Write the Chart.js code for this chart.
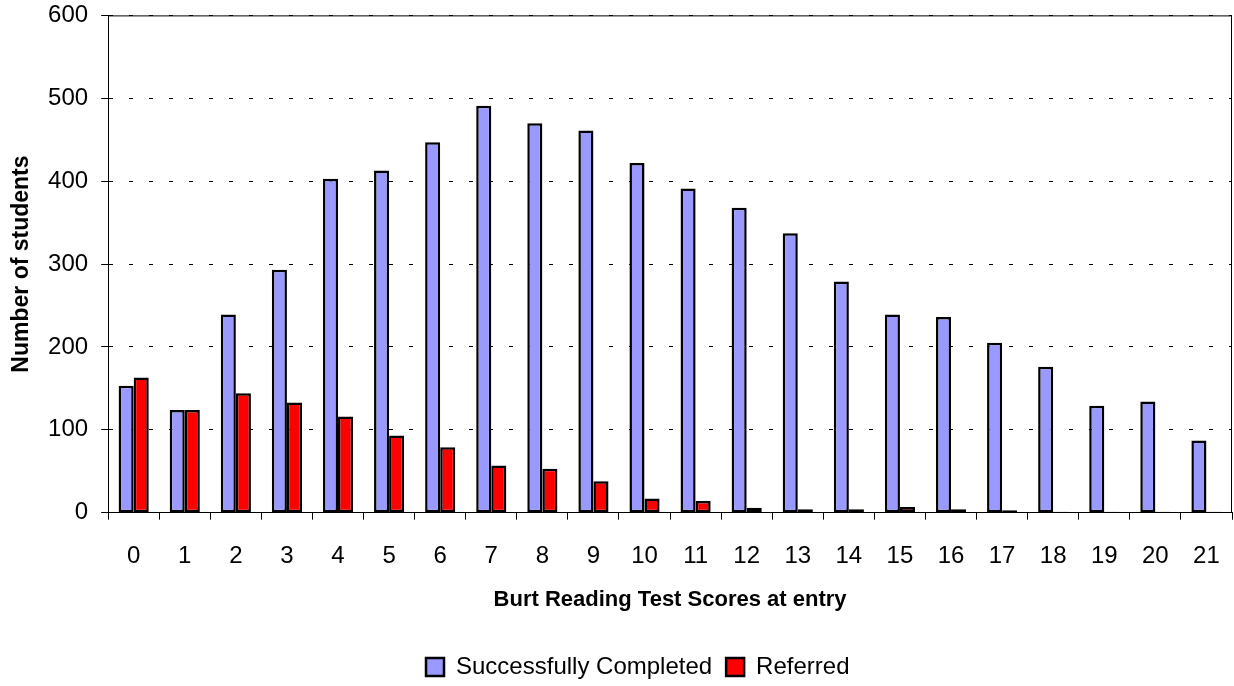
<!DOCTYPE html>
<html>
<head>
<meta charset="utf-8">
<script src="https://cdn.jsdelivr.net/npm/chart.js@4/dist/chart.umd.min.js"></script>
<style>
  body { margin: 0; background: #fff; }
  #wrap { width: 1234px; height: 686px; }
</style>
</head>
<body>
<div id="wrap"><canvas id="burt-chart"></canvas></div>
<script>
var scores = ["0","1","2","3","4","5","6","7","8","9","10","11","12","13","14","15","16","17","18","19","20","21"];
var completed = [153,124,239,293,403,413,447,491,470,461,422,391,368,337,279,239,236,205,176,129,134,87];
var referred = [163,124,144,133,116,93,79,57,53,38,17,14,6,4,4,7,4,3,1,1,1,1];
var yTicks = [0,100,200,300,400,500,600];

var font = "'Liberation Sans', Arial, sans-serif";

// solid box on top and right of the plot
var plotBox = {
  id: 'plotBox',
  afterLayout: function(chart) {
    // legend sits a bit right of centre in the original
    chart.legend.left += 18;
    chart.legend.right += 18;
  },
  beforeDatasetsDraw: function(chart) {
    var a = chart.chartArea;
    var ctx = chart.ctx;
    ctx.save();
    ctx.strokeStyle = '#000';
    ctx.lineWidth = 1;
    ctx.beginPath();
    ctx.moveTo(a.left, a.top + 0.5);
    ctx.lineTo(a.right - 0.5, a.top + 0.5);
    ctx.lineTo(a.right - 0.5, a.bottom);
    ctx.stroke();
    ctx.restore();
  }
};

new Chart(document.getElementById("burt-chart"), {
  type: 'bar',
  data: {
    labels: scores,
    datasets: [{
        label: "Successfully Completed",
        data: completed,
        backgroundColor: "#9999ff",
        borderColor: "#000",
        borderWidth: 2.5,
        borderSkipped: false,
        categoryPercentage: 0.59,
        barPercentage: 1
      }, {
        label: "Referred",
        data: referred,
        backgroundColor: "#ff0000",
        borderColor: "#000",
        borderWidth: 2.5,
        borderSkipped: false,
        categoryPercentage: 0.59,
        barPercentage: 1
      }
    ]
  },
  options: {
    responsive: true,
    maintainAspectRatio: false,
    animation: false,
    layout: { padding: { top: 8, right: 2, left: 7.5, bottom: -3 } },
    plugins: {
      legend: {
        position: 'bottom',
        labels: {
          color: '#000',
          font: { family: font, size: 24 },
          boxWidth: 18,
          boxHeight: 18,
          padding: 14,
          useBorderRadius: false
        }
      },
      tooltip: { enabled: false }
    },
    scales: {
      x: {
        grid: { display: true, drawOnChartArea: false, tickLength: 7, color: '#000', offset: true },
        border: { color: '#000', width: 1 },
        ticks: { color: '#000', font: { family: font, size: 24, lineHeight: 2.78 }, padding: 3, maxRotation: 0 },
        title: {
          display: true,
          text: 'Burt Reading Test Scores at entry',
          color: '#000',
          font: { family: font, size: 22, weight: 'bold' },
          padding: { top: -5.6, bottom: 27.8 }
        }
      },
      y: {
        min: 0,
        max: 600,
        afterBuildTicks: function(axis) {
          axis.ticks = yTicks.map(function(v) { return { value: v }; });
        },
        grid: { color: '#000', tickLength: 7, tickColor: '#000', tickBorderDash: [] },
        border: { color: '#000', width: 1, dash: [4, 16] },
        ticks: { color: '#000', font: { family: font, size: 24, lineHeight: 0.2 }, padding: 13 },
        title: {
          display: true,
          text: 'Number of students',
          color: '#000',
          font: { family: font, size: 23, weight: 'bold' },
          padding: { top: 0, bottom: 0 }
        }
      }
    }
  },
  plugins: [plotBox]
});
</script>
</body>
</html>
